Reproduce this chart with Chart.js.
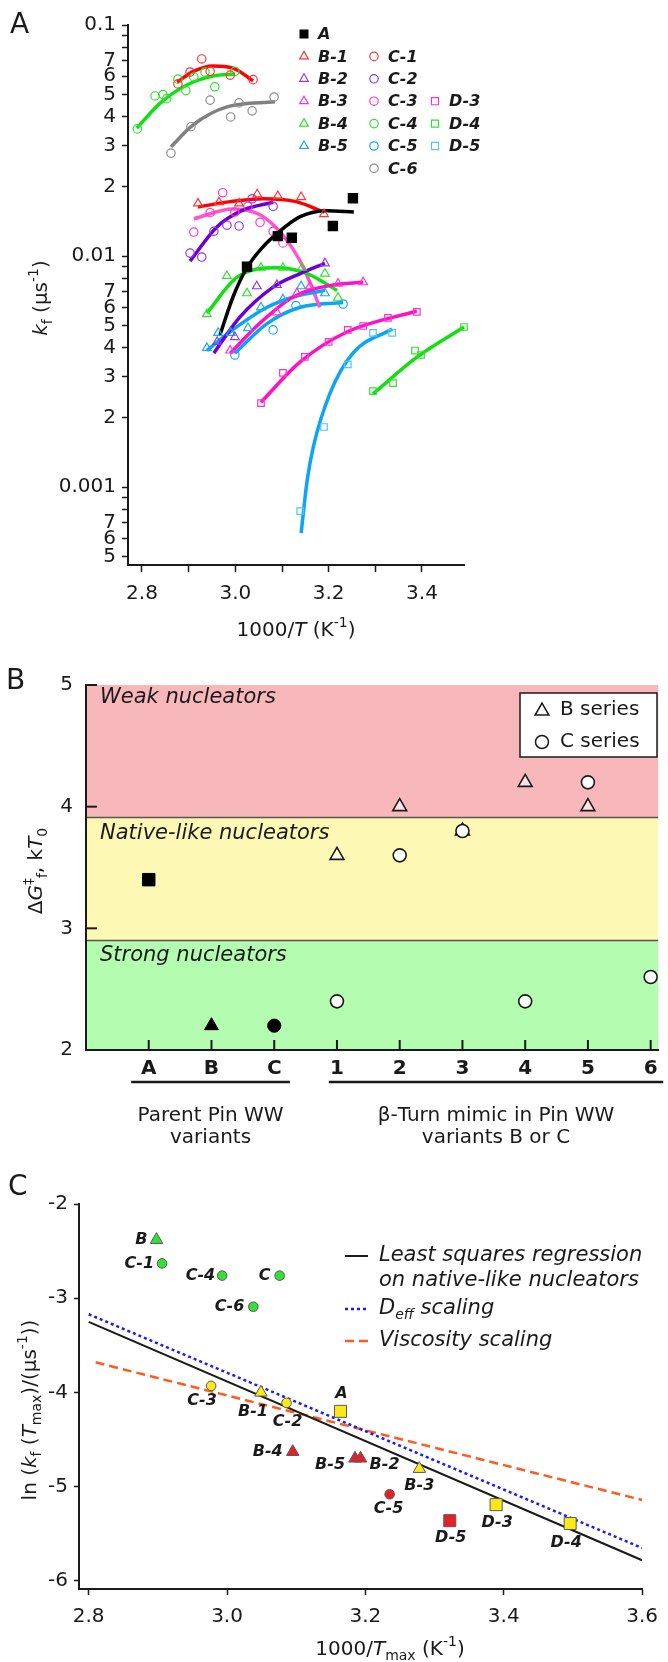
<!DOCTYPE html>
<html>
<head>
<meta charset="utf-8">
<script src="https://cdn.jsdelivr.net/npm/chart.js@4.4.1/dist/chart.umd.min.js"></script>
<style>
  html, body { margin: 0; padding: 0; background: #fff; }
  #wrap { position: relative; width: 668px; height: 1662px; }
  canvas { position: absolute; left: 0; }
</style>
</head>
<body>
<div id="wrap">
  <canvas id="chartA" width="668" height="660" style="top:0"></canvas>
  <canvas id="chartB" width="668" height="490" style="top:660px"></canvas>
  <canvas id="chartC" width="668" height="512" style="top:1150px"></canvas>
</div>
<script>
// ---------- panel A: kf vs 1000/T, points + fitted curves ----------
const A_pts  = [[3.025,0.0090],[3.091,0.0122],[3.121,0.0120],[3.209,0.0135],[3.252,0.0178]];
const A_fit  = [[2.967,0.00455],[2.995,0.00665],[3.025,0.0089],[3.06,0.0110],[3.091,0.0126],[3.139,0.0148],[3.196,0.0157],[3.254,0.0155]];
const B1_pts = [[2.92,0.0169],[2.965,0.0171],[3.008,0.0169],[3.047,0.0185],[3.091,0.0182],[3.141,0.0180],[3.19,0.0152]];
const B1_fit = [[2.92,0.0163],[2.99,0.0172],[3.06,0.0177],[3.13,0.0172],[3.19,0.0155]];
const B2_pts = [[2.961,0.00425],[2.999,0.00446],[3.046,0.0074],[3.089,0.0075],[3.192,0.0093]];
const B2_fit = [[2.954,0.0038],[3.01,0.00545],[3.081,0.00734],[3.139,0.0084],[3.192,0.0093]];
const B3_pts = [[2.989,0.0039],[3.089,0.0057],[3.132,0.0069],[3.16,0.0074],[3.22,0.0076],[3.274,0.0077]];
const B3_fit = [[2.989,0.0038],[3.053,0.00513],[3.124,0.00665],[3.209,0.0075],[3.274,0.0077]];
const B4_pts = [[2.939,0.0056],[2.982,0.0082],[3.025,0.0069],[3.055,0.0089],[3.102,0.0089],[3.143,0.0089],[3.192,0.0084],[3.22,0.0066]];
const B4_fit = [[2.939,0.00566],[3.004,0.0081],[3.089,0.0089],[3.154,0.0084],[3.218,0.0071]];
const B5_pts = [[2.939,0.0040],[2.963,0.00465],[2.99,0.00465],[3.027,0.00488],[3.055,0.0060],[3.102,0.0065],[3.141,0.0074],[3.192,0.0069]];
const B5_fit = [[2.939,0.0039],[2.995,0.0048],[3.068,0.0060],[3.13,0.0067],[3.192,0.0071]];
const C1_pts = [[2.877,0.0556],[2.903,0.0626],[2.928,0.0713],[2.946,0.063],[2.989,0.0607],[3.038,0.058]];
const C1_fit = [[2.875,0.0566],[2.91,0.063],[2.952,0.0665],[2.995,0.0651],[3.038,0.0573]];
const C2_pts = [[2.903,0.0103],[2.928,0.0099],[2.954,0.0128],[2.982,0.0136],[3.008,0.0135],[3.036,0.0177],[3.081,0.0164]];
const C2_fit = [[2.903,0.0095],[2.961,0.0134],[3.016,0.0158],[3.081,0.0171]];
const C3_pts = [[2.911,0.0127],[2.946,0.0154],[2.973,0.0188],[2.999,0.0155],[3.027,0.0164],[3.053,0.0140],[3.081,0.0128],[3.102,0.0114]];
const C3_fit = [[2.911,0.0145],[2.995,0.0160],[3.053,0.0151],[3.102,0.0123],[3.145,0.0090],[3.181,0.0060]];
const C4_pts = [[2.79,0.0355],[2.828,0.0493],[2.845,0.050],[2.853,0.048],[2.877,0.0583],[2.894,0.052],[2.911,0.0596],[2.935,0.0626],[2.956,0.054],[2.999,0.063]];
const C4_fit = [[2.789,0.0358],[2.839,0.0459],[2.896,0.055],[2.952,0.0601],[2.999,0.0613]];
const C5_pts = [[2.999,0.00373],[3.081,0.00479],[3.13,0.0061],[3.231,0.0062]];
const C5_fit = [[2.999,0.0038],[3.068,0.0051],[3.139,0.0060],[3.231,0.0063]];
const C6_pts = [[2.862,0.0279],[2.905,0.0363],[2.946,0.0473],[2.99,0.040],[3.008,0.046],[3.036,0.0425],[3.083,0.0488]];
const C6_fit = [[2.862,0.0297],[2.909,0.0369],[2.982,0.0442],[3.085,0.0465]];
const D3_pts = [[3.055,0.00231],[3.102,0.00312],[3.149,0.00366],[3.2,0.00425],[3.241,0.00479],[3.274,0.00498],[3.327,0.0054],[3.389,0.00573]];
const D3_fit = [[3.055,0.00233],[3.139,0.00348],[3.239,0.00469],[3.389,0.00578]];
const D4_pts = [[3.295,0.0026],[3.338,0.00282],[3.385,0.0039],[3.398,0.00373],[3.49,0.00493]];
const D4_fit = [[3.295,0.00253],[3.389,0.00365],[3.49,0.00493]];
const D5_pts = [[3.139,0.000787],[3.19,0.00182],[3.241,0.0034],[3.295,0.00465],[3.336,0.00465]];
const D5_fit = [[3.141,0.000633],[3.154,0.00107],[3.167,0.00149],[3.203,0.00255],[3.252,0.0038],[3.336,0.00483]];

const xTicksA = [2.8, 2.9, 3.0, 3.1, 3.2, 3.3, 3.4];
const xTickLabelsA = ['2.8', '', '3.0', '', '3.2', '', '3.4'];
const yTicksA = [0.0005,0.0006,0.0007,0.0008,0.0009,0.001,0.002,0.003,0.004,0.005,0.006,0.007,0.008,0.009,
                 0.01,0.02,0.03,0.04,0.05,0.06,0.07,0.08,0.09,0.1];
const yTickLabelsA = ['5','6','7','','','0.001','2','3','4','5','6','7','','','0.01','2','3','4','5','6','7','','','0.1'];

// ---------- panel B: activation free energy per variant ----------
const catsB = ['A', 'B', 'C', '1', '2', '3', '4', '5', '6'];
const parentB = [3.4, 2.2, 2.2];                 // A, B, C
const turnB_B = [3.6, 4.0, 3.8, 4.2, 4.0, null]; // B series, mimics 1..6
const turnB_C = [2.4, 3.6, 3.8, 2.4, 4.2, 2.6];  // C series, mimics 1..6
const yTicksB = [2, 3, 4, 5];
const bandEdgesB = [2, 2.9, 3.91, 5];
const bandNamesB = ['Strong nucleators', 'Native-like nucleators', 'Weak nucleators'];

// ---------- panel C: ln kf(Tmax) vs 1000/Tmax ----------
const namesC = ['B','C-1','C-4','C','C-6','C-3','B-1','C-2','A','B-4','B-5','B-2','B-3','C-5','D-5','D-3','D-4'];
const xC = [2.898,2.906,2.993,3.076,3.038,2.977,3.049,3.086,3.164,3.095,3.185,3.193,3.278,3.235,3.322,3.389,3.496];
const yC = [-2.38,-2.63,-2.76,-2.76,-3.09,-3.93,-4.00,-4.11,-4.20,-4.63,-4.70,-4.70,-4.81,-5.08,-5.36,-5.19,-5.39];
const classC = ['strong','strong','strong','strong','strong','native','native','native','native',
                'weak','weak','weak','native','weak','weak','native','native'];
const lsqX = [2.8, 3.6],  lsqY = [-3.25, -5.78];
const deffX = [2.8, 3.6], deffY = [-3.17, -5.65];
const viscX = [2.81, 3.6], viscY = [-3.68, -5.14];
const xTicksC = [2.8, 3.0, 3.2, 3.4, 3.6];
const yTicksC = [-6, -5, -4, -3, -2];

// ---------------------------------------------------------------
const FONT = '"DejaVu Sans", Verdana, sans-serif';
const INK = '#1a1a1a';
Chart.defaults.font.family = FONT;
Chart.defaults.font.size = 20;
Chart.defaults.color = INK;

function drawRich(ctx, parts, x, y, size, rotate, align) {
  ctx.save();
  ctx.translate(x, y);
  if (rotate) ctx.rotate(-Math.PI / 2);
  ctx.textBaseline = 'middle';
  ctx.textAlign = 'left';
  ctx.fillStyle = INK;
  const segs = parts.map(([t, f = '']) => {
    const small = f.includes('_') || f.includes('^');
    const fs = small ? Math.round(size * 0.68) : size;
    const font = (f.includes('I') ? 'italic ' : '') + (f.includes('B') ? 'bold ' : '') + fs + 'px ' + FONT;
    ctx.font = font;
    const dy = f.includes('_') ? size * 0.32 : f.includes('^') ? -size * 0.38 : 0;
    return { t, font, dy, w: ctx.measureText(t).width };
  });
  const total = segs.reduce((a, s) => a + s.w, 0);
  let cx = align === 'left' ? 0 : -total / 2;
  segs.forEach(s => { ctx.font = s.font; ctx.fillText(s.t, cx, s.dy); cx += s.w; });
  ctx.restore();
}

function drawMarker(ctx, style, x, y, r, fill, stroke, lw) {
  ctx.save();
  ctx.beginPath();
  if (style === 'circle') ctx.arc(x, y, r, 0, Math.PI * 2);
  else if (style === 'rect') { const h = r * Math.SQRT1_2; ctx.rect(x - h, y - h, 2 * h, 2 * h); }
  else {
    ctx.moveTo(x, y - r);
    ctx.lineTo(x + r * Math.sin(2 * Math.PI / 3), y + r / 2);
    ctx.lineTo(x - r * Math.sin(2 * Math.PI / 3), y + r / 2);
    ctx.closePath();
  }
  if (fill) { ctx.fillStyle = fill; ctx.fill(); }
  if (stroke) { ctx.strokeStyle = stroke; ctx.lineWidth = lw; ctx.stroke(); }
  ctx.restore();
}

const styleOf = n => ({ A: 'rect', B: 'triangle', C: 'circle', D: 'rect' })[n[0]];

// ---------------- Panel A ----------------
const markCol = { '0': '#000', '1': '#ff3535', '2': '#8a3be8', '3': '#ff33cc', '4': '#33e033', '5': '#1aa8f5', '6': '#8c8c8c' };
const fitCol  = { '0': '#000', '1': '#ff0000', '2': '#6a00d6', '3': '#ff10c8', '4': '#10e010', '5': '#0aa6f2', '6': '#808080' };
const seriesA = [
  ['A', A_pts, A_fit], ['B-1', B1_pts, B1_fit], ['B-2', B2_pts, B2_fit], ['B-3', B3_pts, B3_fit],
  ['B-4', B4_pts, B4_fit], ['B-5', B5_pts, B5_fit], ['C-1', C1_pts, C1_fit], ['C-2', C2_pts, C2_fit],
  ['C-3', C3_pts, C3_fit], ['C-4', C4_pts, C4_fit], ['C-5', C5_pts, C5_fit], ['C-6', C6_pts, C6_fit],
  ['D-3', D3_pts, D3_fit], ['D-4', D4_pts, D4_fit], ['D-5', D5_pts, D5_fit]
];
const numOf = n => n === 'A' ? '0' : n.slice(2);
const markColorA = n => n === 'D-5' ? '#4fc4ff' : markCol[numOf(n)];
const radA = n => n === 'A' ? 6.5 : ({ B: 5, C: 4.2, D: 4.6 })[n[0]];

const dsA = [];
seriesA.forEach(([name, pts, fit]) => {
  dsA.push({
    data: fit.map(([x, y]) => ({ x, y })), showLine: true, pointRadius: 0,
    borderColor: name === 'C-3' ? '#ff55cc' : fitCol[numOf(name)], borderWidth: 3.5,
    cubicInterpolationMode: 'monotone', clip: false, order: 1
  });
  dsA.push({
    data: pts.map(([x, y]) => ({ x, y })), showLine: false,
    pointStyle: styleOf(name), pointRadius: radA(name),
    pointBorderColor: markColorA(name), pointBorderWidth: 1.2,
    pointBackgroundColor: name === 'A' ? '#000' : 'rgba(0,0,0,0)', clip: false, order: 0
  });
});

const panelA = {
  id: 'panelA',
  afterDraw(chart) {
    const ctx = chart.ctx;
    ctx.save();
    ctx.fillStyle = INK;
    ctx.font = '28px ' + FONT;
    ctx.textBaseline = 'middle';
    ctx.fillText('A', 10, 26);
    ctx.restore();
    drawRich(ctx, [['k', 'I'], ['f', '_'], [' (μs'], ['-1', '^'], [')']], 42, 298, 20, true);
    drawRich(ctx, [['1000/'], ['T', 'I'], [' (K'], ['-1', '^'], [')']], 296, 631, 20, false);
    // legend in three columns
    const colX = [304, 374, 435];
    seriesA.forEach(([name]) => {
      const col = ({ A: 0, B: 0, C: 1, D: 2 })[name[0]];
      const row = name === 'A' ? 0 : +name.slice(2);
      const y = 34 + row * 22.4;
      const st = styleOf(name);
      drawMarker(ctx, st, colX[col], y, name === 'A' ? 5.5 : (st === 'circle' ? 4.2 : 5),
        name === 'A' ? '#000' : null, markColorA(name), 1.2);
      ctx.save();
      ctx.fillStyle = INK;
      ctx.font = 'italic bold 16px ' + FONT;
      ctx.textBaseline = 'middle';
      ctx.fillText(name, colX[col] + 14, y + 1);
      ctx.restore();
    });
  }
};

new Chart(document.getElementById('chartA'), {
  type: 'scatter',
  data: { datasets: dsA },
  options: {
    responsive: false, animation: false, events: [],
    layout: { padding: { top: 25, right: 204, left: 0, bottom: 0 } },
    plugins: { legend: { display: false }, tooltip: { enabled: false } },
    scales: {
      x: {
        type: 'linear', min: 2.77, max: 3.49,
        afterFit: s => { s.height = 95; },
        afterBuildTicks: s => { s.ticks = xTicksA.map(v => ({ value: v })); },
        ticks: { autoSkip: false, maxRotation: 0, padding: 10, callback: (v, i) => xTickLabelsA[i] },
        grid: { drawOnChartArea: false, tickLength: 7, tickColor: INK, tickWidth: 1.5 },
        border: { color: INK, width: 2 }
      },
      y: {
        type: 'logarithmic', min: 0.00046, max: 0.1,
        afterFit: s => { s.width = 128; },
        afterBuildTicks: s => { s.ticks = yTicksA.map(v => ({ value: v })); },
        ticks: { autoSkip: false, padding: 6, callback: (v, i) => yTickLabelsA[i] },
        grid: { drawOnChartArea: false, tickLength: 6, tickColor: INK, tickWidth: 1.5 },
        border: { color: INK, width: 2 }
      }
    }
  },
  plugins: [panelA]
});

// ---------------- Panel B ----------------
const bandColors = ['#b3fcb0', '#fdf9b4', '#f8b8bb'];
const turnNums = catsB.slice(3);
const panelB = {
  id: 'panelB',
  beforeDraw(chart) {
    const { ctx, chartArea: a, scales: { y } } = chart;
    ctx.save();
    for (let i = 0; i < 3; i++) {
      const top = y.getPixelForValue(bandEdgesB[i + 1]);
      const bot = y.getPixelForValue(bandEdgesB[i]);
      ctx.fillStyle = bandColors[i];
      ctx.fillRect(a.left, top, a.right - a.left, bot - top);
      ctx.fillStyle = INK;
      ctx.font = 'italic 21px ' + FONT;
      ctx.textBaseline = 'top';
      ctx.fillText(bandNamesB[i], a.left + 14, top + (i === 2 ? 2 : 5));
    }
    ctx.strokeStyle = '#555';
    ctx.lineWidth = 1.5;
    [bandEdgesB[1], bandEdgesB[2]].forEach(v => {
      const py = y.getPixelForValue(v);
      ctx.beginPath(); ctx.moveTo(a.left, py); ctx.lineTo(a.right, py); ctx.stroke();
    });
    ctx.restore();
  },
  afterDraw(chart) {
    const { ctx, chartArea: a, scales: { x, y } } = chart;
    ctx.save();
    ctx.strokeStyle = INK;
    ctx.lineWidth = 2;
    // inward tick marks
    yTicksB.forEach(v => {
      const py = y.getPixelForValue(v);
      ctx.beginPath(); ctx.moveTo(a.left, py); ctx.lineTo(a.left + 11, py); ctx.stroke();
    });
    catsB.forEach((c, i) => {
      const px = x.getPixelForValue(i);
      ctx.beginPath(); ctx.moveTo(px, a.bottom); ctx.lineTo(px, a.bottom - 10); ctx.stroke();
    });
    // group brackets and captions
    const groups = [[-0.28, 2.25, ['Parent Pin WW', 'variants']], [2.87, 8.2, ['β-Turn mimic in Pin WW', 'variants B or C']]];
    ctx.lineWidth = 2.5;
    groups.forEach(([f, t, lines]) => {
      const x0 = x.getPixelForValue(f), x1 = Math.min(x.getPixelForValue(t), 668);
      ctx.beginPath(); ctx.moveTo(x0, a.bottom + 32); ctx.lineTo(x1, a.bottom + 32); ctx.stroke();
      ctx.fillStyle = INK;
      ctx.font = '20px ' + FONT;
      ctx.textAlign = 'center';
      ctx.textBaseline = 'middle';
      lines.forEach((l, k) => ctx.fillText(l, (x0 + x1) / 2, a.bottom + 66 + k * 22));
    });
    // legend box
    ctx.fillStyle = '#fff';
    ctx.fillRect(520, 693 - 660, 137, 64);
    ctx.lineWidth = 1.5;
    ctx.strokeRect(520, 693 - 660, 137, 64);
    drawMarker(ctx, 'triangle', 542, 711 - 660, 8, '#fff', INK, 1.5);
    drawMarker(ctx, 'circle', 542, 742 - 660, 6.5, '#fff', INK, 1.5);
    ctx.fillStyle = INK;
    ctx.font = '20px ' + FONT;
    ctx.textAlign = 'left';
    ctx.textBaseline = 'middle';
    ctx.fillText('B series', 560, 710 - 660);
    ctx.fillText('C series', 560, 742 - 660);
    ctx.font = '28px ' + FONT;
    ctx.fillText('B', 6, 682 - 660);
    ctx.restore();
    drawRich(ctx, [['Δ'], ['G', 'I'], ['‡', '^'], ['f', '_'], [', k'], ['T', 'I'], ['0', '_']], 37, 871 - 660, 20, true);
  }
};

new Chart(document.getElementById('chartB'), {
  type: 'scatter',
  data: {
    datasets: [
      {
        data: parentB.map((v, i) => ({ x: i, y: v })),
        pointStyle: ['rect', 'triangle', 'circle'], pointRadius: [8.8, 8, 6.6],
        pointBackgroundColor: '#000', pointBorderColor: '#000', pointBorderWidth: 1
      },
      {
        data: turnNums.map((c, i) => ({ x: catsB.indexOf(c), y: turnB_C[i] })),
        pointStyle: 'circle', pointRadius: 6.5,
        pointBackgroundColor: '#fff', pointBorderColor: INK, pointBorderWidth: 1.6
      },
      {
        data: turnNums.map((c, i) => ({ x: catsB.indexOf(c), y: turnB_B[i] })).filter(p => p.y !== null),
        pointStyle: 'triangle', pointRadius: 8,
        pointBackgroundColor: 'rgba(255,255,255,0.6)', pointBorderColor: INK, pointBorderWidth: 1.6
      }
    ]
  },
  options: {
    responsive: false, animation: false, events: [],
    layout: { padding: { top: 23, right: 0, left: 0, bottom: 0 } },
    plugins: { legend: { display: false }, tooltip: { enabled: false } },
    scales: {
      x: {
        type: 'linear', min: -1, max: 8.12,
        afterFit: s => { s.height = 100; },
        afterBuildTicks: s => { s.ticks = catsB.map((c, i) => ({ value: i })); },
        ticks: { autoSkip: false, maxRotation: 0, padding: 7, font: { weight: 'bold', size: 20 }, callback: (v, i) => catsB[i] },
        grid: { display: false, drawTicks: false },
        border: { color: INK, width: 2 }
      },
      y: {
        min: 2, max: 5,
        afterFit: s => { s.width = 86; },
        afterBuildTicks: s => { s.ticks = yTicksB.map(v => ({ value: v })); },
        ticks: { autoSkip: false, padding: 13, callback: v => String(v) },
        grid: { display: false, drawTicks: false },
        border: { color: INK, width: 2 }
      }
    }
  },
  plugins: [panelB]
});

// ---------------- Panel C ----------------
const fillC = { strong: '#35e035', native: '#fde817', weak: '#e4212a' };
const radC = n => ({ A: 8.5, B: 7.2, C: 4.8, D: 8.5 })[n[0]];
const labelPosC = {
  'B': [-9, 0, 'right'], 'C-1': [-8, 0, 'right'], 'C-4': [-7, 0, 'right'], 'C': [-9, 0, 'right'],
  'C-6': [-9, 0, 'right'], 'C-3': [-9, 15, 'center'], 'B-1': [-8, 19, 'center'], 'C-2': [1, 19, 'center'],
  'A': [1, -18, 'center'], 'B-4': [-10, 0, 'right'], 'B-5': [-10, 6, 'right'], 'B-2': [9, 6, 'left'],
  'B-3': [0, 17, 'center'], 'C-5': [-1, 15, 'center'], 'D-5': [1, 17, 'center'], 'D-3': [1, 18, 'center'],
  'D-4': [-4, 19, 'center']
};

const panelC = {
  id: 'panelC',
  afterDraw(chart) {
    const { ctx, scales: { x, y } } = chart;
    ctx.save();
    ctx.fillStyle = INK;
    ctx.font = 'italic bold 16px ' + FONT;
    ctx.textBaseline = 'middle';
    namesC.forEach((n, i) => {
      const [dx, dy, al] = labelPosC[n];
      ctx.textAlign = al;
      ctx.fillText(n, x.getPixelForValue(xC[i]) + dx, y.getPixelForValue(yC[i]) + dy);
    });
    // legend
    const off = 1150;
    const rows = [[1256, INK, [], 2], [1309, '#1a1aff', [3, 3], 2.5], [1341, '#ff5a1f', [9, 5], 2.5]];
    rows.forEach(([ry, col, dash, w]) => {
      ctx.strokeStyle = col; ctx.lineWidth = w; ctx.setLineDash(dash);
      ctx.beginPath(); ctx.moveTo(345, ry - off); ctx.lineTo(368, ry - off); ctx.stroke();
    });
    ctx.setLineDash([]);
    ctx.textAlign = 'left';
    ctx.font = 'italic 21px ' + FONT;
    ctx.fillText('Least squares regression', 379, 1256 - off);
    ctx.fillText('on native-like nucleators', 379, 1281 - off);
    ctx.fillText('Viscosity scaling', 379, 1341 - off);
    ctx.font = '28px ' + FONT;
    ctx.fillText('C', 8, 1188 - off);
    ctx.restore();
    drawRich(ctx, [['D', 'I'], ['eff', 'I_'], [' scaling', 'I']], 379, 1309 - off, 21, false, 'left');
    drawRich(ctx, [['ln ('], ['k', 'I'], ['f', '_'], [' ('], ['T', 'I'], ['max', '_'], [')/(μs'], ['-1', '^'], ['))']], 31, 1410 - off, 20, true);
    drawRich(ctx, [['1000/'], ['T', 'I'], ['max', '_'], [' (K'], ['-1', '^'], [')']], 390, 1650 - off, 20, false);
  }
};

new Chart(document.getElementById('chartC'), {
  type: 'scatter',
  data: {
    datasets: [
      {
        data: namesC.map((n, i) => ({ x: xC[i], y: yC[i] })),
        pointStyle: namesC.map(styleOf), pointRadius: namesC.map(radC),
        pointBackgroundColor: classC.map(c => fillC[c]), pointBorderColor: '#5a5a5a', pointBorderWidth: 1,
        clip: false, order: 0
      },
      { data: lsqX.map((v, i) => ({ x: v, y: lsqY[i] })), showLine: true, pointRadius: 0, borderColor: INK, borderWidth: 2, order: 1 },
      { data: deffX.map((v, i) => ({ x: v, y: deffY[i] })), showLine: true, pointRadius: 0, borderColor: '#1a1aff', borderWidth: 2.5, borderDash: [3, 3], order: 1 },
      { data: viscX.map((v, i) => ({ x: v, y: viscY[i] })), showLine: true, pointRadius: 0, borderColor: '#ff5a1f', borderWidth: 2.5, borderDash: [9, 5], order: 1 }
    ]
  },
  options: {
    responsive: false, animation: false, events: [],
    layout: { padding: { top: 54, right: 14, left: 0, bottom: 0 } },
    plugins: { legend: { display: false }, tooltip: { enabled: false } },
    scales: {
      x: {
        type: 'linear', min: 2.786, max: 3.6,
        afterFit: s => { s.height = 73; },
        afterBuildTicks: s => { s.ticks = xTicksC.map(v => ({ value: v })); },
        ticks: { autoSkip: false, maxRotation: 0, padding: 10, callback: v => v.toFixed(1) },
        grid: { drawOnChartArea: false, tickLength: 6, tickColor: INK, tickWidth: 1.5 },
        border: { color: INK, width: 2 }
      },
      y: {
        min: -6.085, max: -2,
        afterFit: s => { s.width = 79; },
        afterBuildTicks: s => { s.ticks = yTicksC.map(v => ({ value: v })); },
        ticks: { autoSkip: false, padding: 6, callback: v => String(v) },
        grid: { drawOnChartArea: false, tickLength: 5, tickColor: INK, tickWidth: 1.5 },
        border: { color: INK, width: 2 }
      }
    }
  },
  plugins: [panelC]
});
</script>
</body>
</html>
